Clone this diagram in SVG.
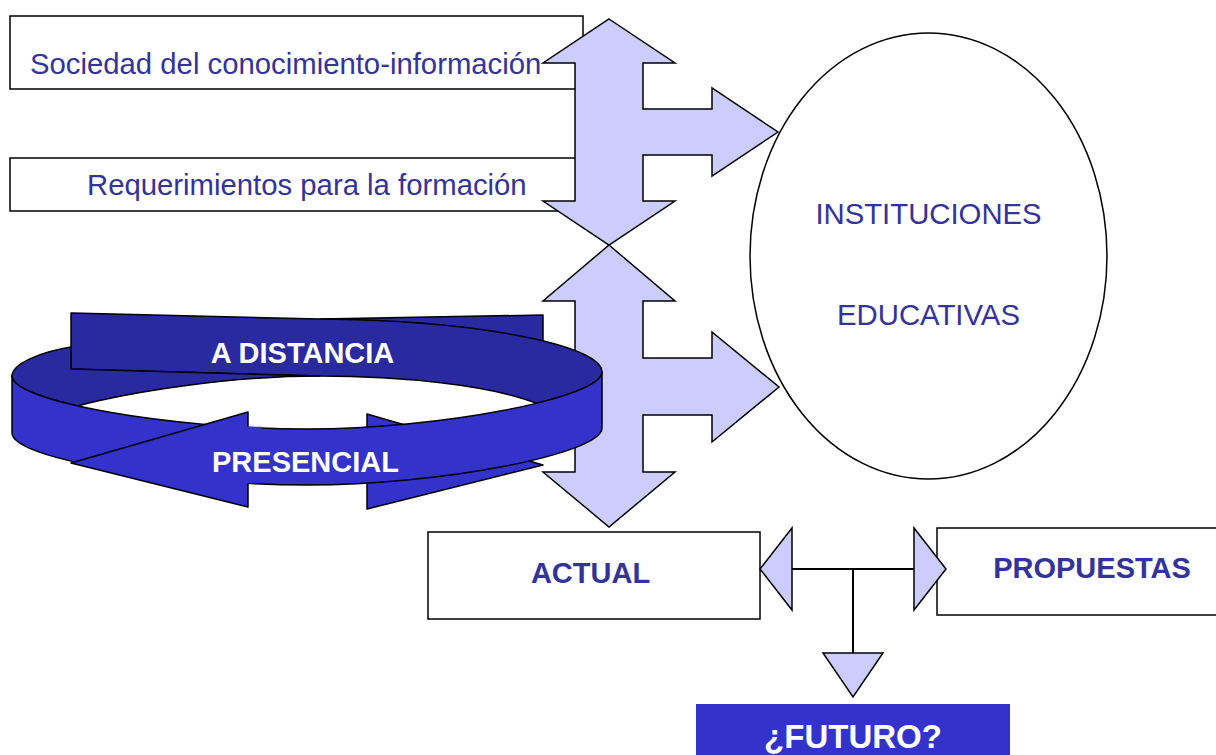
<svg xmlns="http://www.w3.org/2000/svg" width="1216" height="755" viewBox="0 0 1216 755">
<style>
.box{fill:#fff;stroke:#000;stroke-width:1.5}
.blk{fill:#CCCCFF;stroke:#000;stroke-width:1.5;stroke-linejoin:miter}
.t{font-family:"Liberation Sans",Arial,sans-serif;font-size:29.3px;fill:#333399}
.b{font-weight:bold;font-size:29px}
.w{fill:#fff}
.dk{fill:#2A2AA0;stroke:#000;stroke-width:1.5;stroke-linejoin:round}
.lt{fill:#3333CC;stroke:#000;stroke-width:1.5;stroke-linejoin:round}
.ln{fill:none;stroke:#000;stroke-width:2}
.tri{fill:#CCCCFF;stroke:#000;stroke-width:1.5}
</style>
<rect width="1216" height="755" fill="#fff"/>

<g id="sociedad">
<rect class="box" x="10" y="16" width="573" height="73"/>
<text class="t" x="30" y="74">Sociedad del conocimiento-información</text>
</g>
<g id="requerimientos">
<rect class="box" x="10" y="158" width="573" height="53"/>
<text class="t" x="87" y="195">Requerimientos para la formación</text>
</g>
<g id="instituciones">
<ellipse class="box" cx="928.5" cy="256" rx="178.5" ry="223"/>
<text class="t" text-anchor="middle" x="928.5" y="224">INSTITUCIONES</text>
<text class="t" text-anchor="middle" x="928.5" y="325">EDUCATIVAS</text>
</g>

<g id="block-arrows">
<path class="blk" d="M609,19 L675,63 L643,63 L643,109 L712,109 L712,88 L778,132 L712,176 L712,155 L643,155 L643,201 L675,201 L609,245 L543,201 L575,201 L575,63 L543,63 Z"/>
<path class="blk" d="M609,245 L675,301 L643,301 L643,358 L712,358 L712,332 L779,387 L712,442 L712,415 L643,415 L643,472 L675,472 L609,527 L543,472 L575,472 L575,301 L543,301 Z"/>
</g>

<g id="ring">
<path class="dk" d="M320,319 L543,315 L543,360 L320,345 Z"/>
<path class="dk" d="M71,369 L71,313 L320,319 C475,320 602,345 602,372 C602,382.4 576.1,393.6 536.5,403.3 C490,385 400,376 320,376 L71,369 Z"/>
<path class="dk" d="M71,347 C40,352 12,364 12,376 C12,386.4 37.9,397 77.5,405.9 C130,392 230,376 320,376 L71,369 Z"/>
<path class="lt" d="M367,414 L543,465 L367,509 Z"/>
<path class="lt" d="M12,376 C12,402 174,429 307,429 C440,429 602,398 602,372 L602,428 C602,454 440,485 307,485 C174,485 12,459 12,433 Z"/>
<path fill="#3333CC" d="M71,463 L248,412 L248,426.5 L262,426.8 L262,483 L248,483.5 L248,507 Z"/>
<path fill="none" stroke="#000" stroke-width="1.5" stroke-linejoin="round" d="M248,426.5 L248,412 L71,463 L248,507 L248,483.5"/>
<text class="t b w" text-anchor="middle" x="302.5" y="363">A DISTANCIA</text>
<text class="t b w" text-anchor="middle" x="305.5" y="472">PRESENCIAL</text>
</g>

<g id="actual">
<rect class="box" x="428" y="532" width="332" height="87"/>
<text class="t b" text-anchor="middle" x="590.5" y="583">ACTUAL</text>
</g>
<g id="propuestas">
<rect class="box" x="937" y="528" width="290" height="87"/>
<text class="t b" text-anchor="middle" x="1092" y="578">PROPUESTAS</text>
</g>
<g id="futuro">
<rect x="696" y="704" width="314" height="60" fill="#3333CC"/>
<text class="t b w" style="font-size:33px" text-anchor="middle" x="853" y="748">¿FUTURO?</text>
</g>

<g id="connectors">
<path class="ln" d="M792,569 H914 M853,569 V653"/>
<polygon class="tri" points="760,569 792,528 792,610"/>
<polygon class="tri" points="946,569 914,528 914,610"/>
<polygon class="tri" points="823,653 883,653 853,697"/>
</g>
</svg>
